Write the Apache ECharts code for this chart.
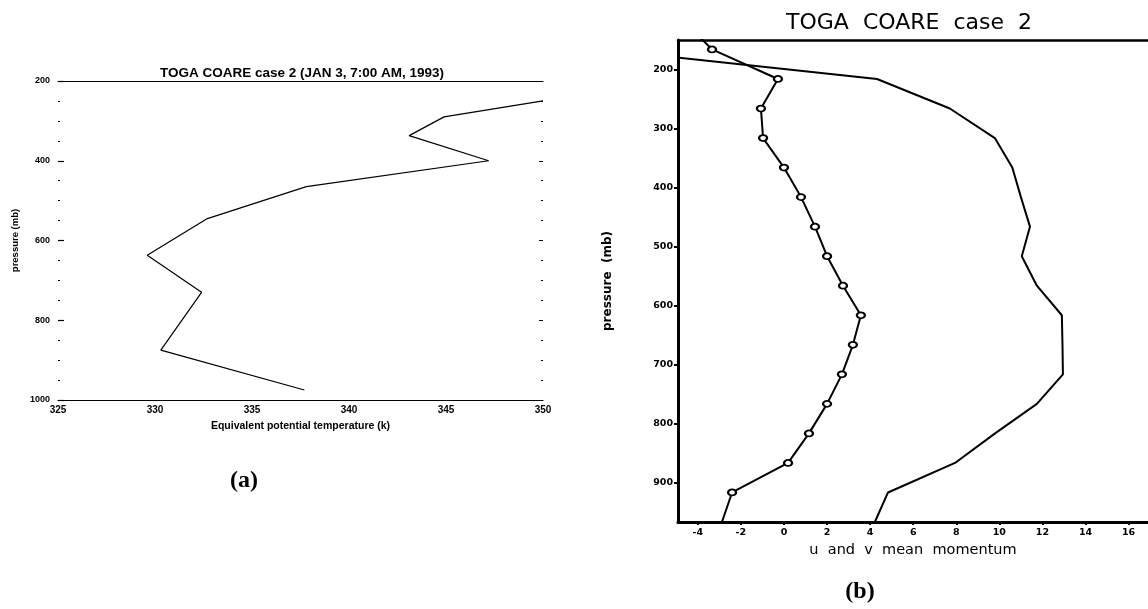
<!DOCTYPE html>
<html>
<head>
<meta charset="utf-8">
<script src="https://cdn.jsdelivr.net/npm/echarts@6/dist/echarts.min.js"></script>
<style>
  html, body { margin: 0; padding: 0; background: #fff; }
  #chart { width: 1148px; height: 609px; }
</style>
</head>
<body>
<div id="chart"></div>
<script>
// panel (a): equivalent potential temperature profile
var aPressure = [250, 290, 337, 400, 465, 545, 637, 730, 875, 975];
var aThetaE = [350, 344.9, 343.1, 347.2, 337.8, 332.7, 329.6, 332.4, 330.3, 337.7];

// panel (b): mean momentum profiles (first/last levels run off the frame)
var bLevelsLine = [166, 216, 266, 316, 366, 416, 466, 516, 566, 616, 666, 716, 766, 816, 866, 916, 966];
var uMean = [-8.4, 4.32, 7.7, 9.79, 10.6, 11.0, 11.42, 11.04, 11.74, 12.9, 12.93, 12.95, 11.74, 9.8, 7.94, 4.83, 4.22];
var bLevelsCircle = [116, 166, 216, 266, 316, 366, 416, 466, 516, 566, 616, 666, 716, 766, 816, 866, 916, 966];
var vMean = [-4.7, -3.34, -0.28, -1.07, -0.97, 0.0, 0.79, 1.44, 2.0, 2.74, 3.57, 3.2, 2.69, 2.0, 1.16, 0.19, -2.41, -2.88];

var bXTicks = [-4, -2, 0, 2, 4, 6, 8, 10, 12, 14, 16];
var bYTicks = [200, 300, 400, 500, 600, 700, 800, 900];

function pairs(xs, ys) {
  return xs.map(function (x, i) { return [x, ys[i]]; });
}

var chart = echarts.init(document.getElementById("chart"));

var aFont = { color: "#000", fontWeight: "bold", fontFamily: "Liberation Sans" };
var bLabel = { color: "#000", fontSize: 9.5, fontWeight: "bold", fontFamily: "DejaVu Sans" };

var circleData = pairs(vMean, bLevelsCircle).map(function (p, i) {
  if (i === 0 || i === bLevelsCircle.length - 1) {
    return { value: p, symbol: "none" };
  }
  return p;
});

var option = {
  backgroundColor: "#ffffff",
  animation: false,
  graphic: [
    {
      type: "text", x: 302, y: 73,
      style: { text: "TOGA COARE case 2 (JAN 3, 7:00 AM, 1993)", fill: "#000",
        font: "bold 13.5px 'Liberation Sans'", textAlign: "center", textVerticalAlign: "middle",
        align: "center", verticalAlign: "middle" }
    },
    {
      type: "text", x: 244, y: 481,
      style: { text: "(a)", fill: "#000", font: "bold 24px 'Liberation Serif'",
        textAlign: "center", textVerticalAlign: "middle", align: "center", verticalAlign: "middle" }
    },
    {
      type: "text", x: 909, y: 23,
      style: { text: "TOGA  COARE  case  2", fill: "#000", font: "22px 'DejaVu Sans'",
        textAlign: "center", textVerticalAlign: "middle", align: "center", verticalAlign: "middle" }
    },
    {
      type: "text", x: 860, y: 592,
      style: { text: "(b)", fill: "#000", font: "bold 24px 'Liberation Serif'",
        textAlign: "center", textVerticalAlign: "middle", align: "center", verticalAlign: "middle" }
    }
  ],
  grid: [
    { left: 58, top: 81, width: 485, height: 319 },
    { left: 678, top: 40, width: 470, height: 482 }
  ],
  xAxis: [
    {
      gridIndex: 0, type: "value", min: 325, max: 350, interval: 5, position: "bottom",
      name: "Equivalent potential temperature (k)", nameLocation: "middle", nameGap: 21,
      nameTextStyle: Object.assign({ fontSize: 10.5 }, aFont),
      axisLine: { show: true, onZero: false, lineStyle: { color: "#000", width: 1.2 } },
      axisTick: { show: false },
      axisLabel: Object.assign({ margin: 5, fontSize: 10 }, aFont),
      splitLine: { show: false }
    },
    {
      gridIndex: 0, type: "value", min: 325, max: 350, position: "top",
      axisLine: { show: true, onZero: false, lineStyle: { color: "#000", width: 1.2 } },
      axisTick: { show: false }, axisLabel: { show: false }, splitLine: { show: false }
    },
    {
      gridIndex: 1, type: "value", min: -4.92, max: 16.9, position: "bottom",
      name: "u  and  v  mean  momentum", nameLocation: "middle", nameGap: 20,
      nameTextStyle: { color: "#000", fontSize: 14.5, fontFamily: "DejaVu Sans" },
      axisLine: { show: true, onZero: false, lineStyle: { color: "#000", width: 3 } },
      axisTick: { show: true, customValues: bXTicks, length: 3, lineStyle: { color: "#000", width: 2 } },
      axisLabel: Object.assign({ margin: 6, customValues: bXTicks }, bLabel),
      splitLine: { show: false }
    },
    {
      gridIndex: 1, type: "value", min: -4.92, max: 16.9, position: "top",
      axisLine: { show: true, onZero: false, lineStyle: { color: "#000", width: 2.5 } },
      axisTick: { show: false }, axisLabel: { show: false }, splitLine: { show: false }
    }
  ],
  yAxis: [
    {
      gridIndex: 0, type: "value", min: 200, max: 1000, interval: 200, inverse: true, position: "left",
      name: "pressure (mb)", nameLocation: "middle", nameGap: 38, nameRotate: 90,
      nameTextStyle: Object.assign({ fontSize: 9.5 }, aFont),
      axisLine: { show: false },
      axisTick: { show: true, inside: true, length: 6, lineStyle: { color: "#000", width: 1.2 } },
      minorTick: { show: true, splitNumber: 4, length: 2, lineStyle: { color: "#000", width: 1 } },
      axisLabel: Object.assign({ margin: 8, fontSize: 9, formatter: function (v) { return String(v); } }, aFont),
      splitLine: { show: false }
    },
    {
      gridIndex: 0, type: "value", min: 200, max: 1000, interval: 200, inverse: true, position: "right",
      axisLine: { show: false },
      axisTick: { show: true, inside: true, length: 4, lineStyle: { color: "#000", width: 1 } },
      minorTick: { show: true, splitNumber: 4, length: 2, lineStyle: { color: "#000", width: 1 } },
      axisLabel: { show: false }, splitLine: { show: false }
    },
    {
      gridIndex: 1, type: "value", min: 150, max: 966, inverse: true, position: "left",
      name: "pressure  (mb)", nameLocation: "middle", nameGap: 64, nameRotate: 90,
      nameTextStyle: { color: "#000", fontSize: 12, fontWeight: "bold", fontFamily: "DejaVu Sans" },
      axisLine: { show: true, onZero: false, lineStyle: { color: "#000", width: 3 } },
      axisTick: { show: true, customValues: bYTicks, length: 4, lineStyle: { color: "#000", width: 2 } },
      axisLabel: Object.assign({ margin: 5, customValues: bYTicks }, bLabel),
      splitLine: { show: false }
    }
  ],
  series: [
    {
      name: "theta-e",
      type: "line",
      xAxisIndex: 0,
      yAxisIndex: 0,
      symbol: "none",
      lineStyle: { color: "#000", width: 1.2 },
      data: pairs(aThetaE, aPressure)
    },
    {
      name: "u mean",
      type: "line",
      xAxisIndex: 2,
      yAxisIndex: 2,
      symbol: "none",
      clip: true,
      lineStyle: { color: "#000", width: 2 },
      data: pairs(uMean, bLevelsLine)
    },
    {
      name: "v mean",
      type: "line",
      xAxisIndex: 2,
      yAxisIndex: 2,
      symbol: "circle",
      symbolSize: [8, 6],
      clip: true,
      itemStyle: { color: "#fff", borderColor: "#000", borderWidth: 2 },
      lineStyle: { color: "#000", width: 2 },
      data: circleData
    }
  ]
};

chart.setOption(option);
</script>
</body>
</html>
